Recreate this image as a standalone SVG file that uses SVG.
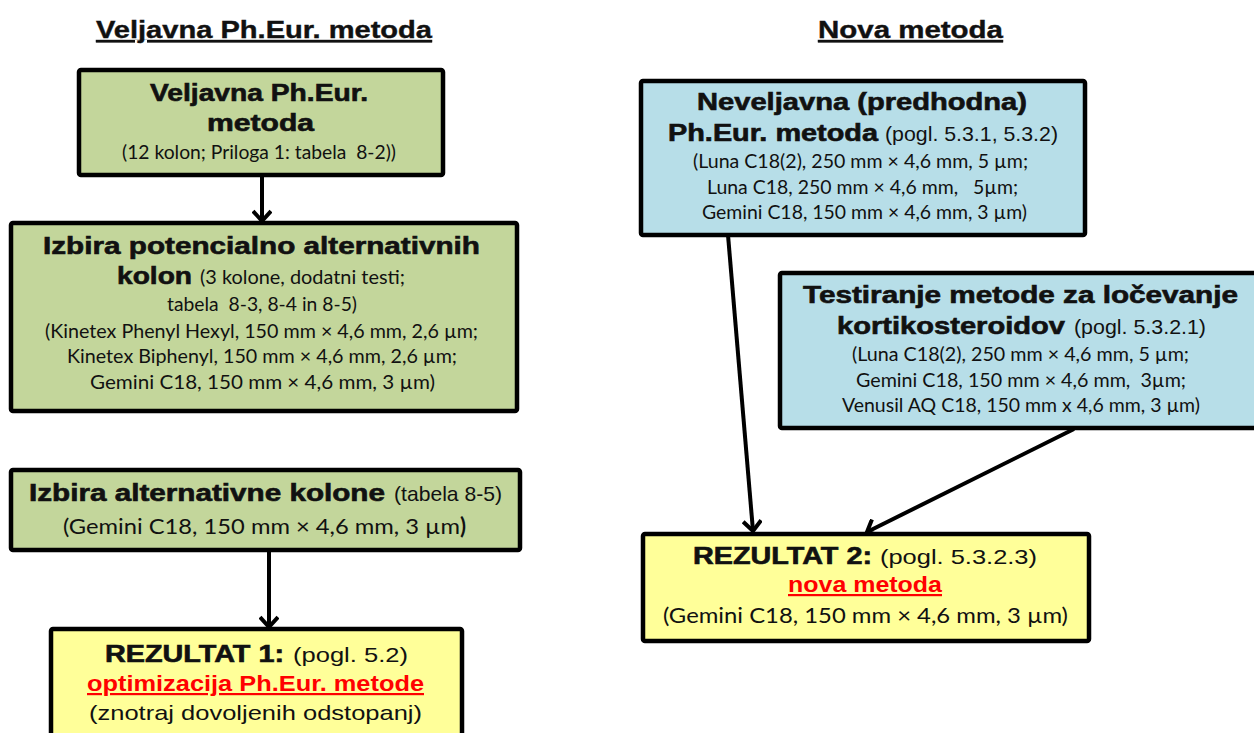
<svg xmlns="http://www.w3.org/2000/svg" width="1254" height="733" viewBox="0 0 1254 733">
<defs>
<style>
.box{stroke:#000;stroke-width:4.5}
.g{fill:#C3D69B}.b{fill:#B7DEE8}.y{fill:#FFFF99}
text{white-space:pre;fill:#111}
.h{font-family:"Liberation Sans",Arial,sans-serif;font-weight:bold;font-size:23px;stroke:#111;stroke-width:0.6}
.hd{font-family:"Liberation Sans",Arial,sans-serif;font-weight:bold;font-size:24px;text-decoration:underline;stroke:#111;stroke-width:0.4}
.c{font-family:Lato,"Open Sans",sans-serif;font-size:18.5px}
.c2{font-family:Lato,"Open Sans",sans-serif;font-size:22px}
.n{font-family:"Liberation Sans",Arial,sans-serif;font-size:21px}
.r{font-family:"Liberation Sans",Arial,sans-serif;font-weight:bold;font-size:22px;fill:#FF0000;text-decoration:underline}
.con{stroke:#000;stroke-width:4;fill:none}
</style>
<marker id="ah" markerUnits="userSpaceOnUse" viewBox="-12 -10 14 20" refX="0" refY="0" markerWidth="14" markerHeight="20" orient="auto">
<path d="M-10,-9 L0,0 L-10,9" fill="none" stroke="#000" stroke-width="4"/>
</marker>
</defs>
<rect width="1254" height="733" fill="#fff"/>
<g id="headings">
<text class="hd" x="96" y="38" textLength="336" lengthAdjust="spacingAndGlyphs">Veljavna Ph.Eur. metoda</text>
<text class="hd" x="818" y="38" textLength="185" lengthAdjust="spacingAndGlyphs">Nova metoda</text>
</g>
<g id="connectors">
<line class="con" x1="262" y1="175" x2="262" y2="221" marker-end="url(#ah)"/>
<line class="con" x1="269" y1="551" x2="269" y2="627" marker-end="url(#ah)"/>
<line class="con" x1="728" y1="235" x2="753" y2="531" marker-end="url(#ah)"/>
<line class="con" x1="1074" y1="429" x2="867" y2="532" marker-end="url(#ah)"/>
</g>
<g id="n1">
<rect class="box g" x="79" y="70" width="364" height="105" rx="2"/>
<text class="h" x="150" y="101" textLength="218" lengthAdjust="spacingAndGlyphs">Veljavna Ph.Eur.</text>
<text class="h" x="207" y="131" textLength="107" lengthAdjust="spacingAndGlyphs">metoda</text>
<text class="c" x="122" y="159" textLength="274" lengthAdjust="spacingAndGlyphs">(12 kolon; Priloga 1: tabela  8-2))</text>
</g>
<g id="n2">
<rect class="box g" x="11" y="223" width="506" height="188" rx="2"/>
<text class="h" x="43" y="254" textLength="437" lengthAdjust="spacingAndGlyphs">Izbira potencialno alternativnih</text>
<text class="h" x="117" y="284" textLength="75" lengthAdjust="spacingAndGlyphs">kolon</text>
<text class="c" x="200" y="284" textLength="205" lengthAdjust="spacingAndGlyphs">(3 kolone, dodatni testi;</text>
<text class="c" x="167" y="311" textLength="190" lengthAdjust="spacingAndGlyphs">tabela  8-3, 8-4 in 8-5)</text>
<text class="c" x="45" y="338" textLength="433" lengthAdjust="spacingAndGlyphs">(Kinetex Phenyl Hexyl, 150 mm × 4,6 mm, 2,6 µm;</text>
<text class="c" x="67" y="363" textLength="390" lengthAdjust="spacingAndGlyphs">Kinetex Biphenyl, 150 mm × 4,6 mm, 2,6 µm;</text>
<text class="c" x="90" y="389" textLength="345" lengthAdjust="spacingAndGlyphs">Gemini C18, 150 mm × 4,6 mm, 3 µm)</text>
</g>
<g id="n3">
<rect class="box g" x="11" y="470" width="509" height="80" rx="2"/>
<text class="h" x="29" y="501" textLength="356" lengthAdjust="spacingAndGlyphs">Izbira alternativne kolone</text>
<text class="n" x="394" y="501" textLength="108" lengthAdjust="spacingAndGlyphs">(tabela 8-5)</text>
<text class="c2" x="63" y="534" textLength="397" lengthAdjust="spacingAndGlyphs">(Gemini C18, 150 mm × 4,6 mm, 3 µm</text>
<text class="c2" x="460" y="534" font-weight="bold">)</text>
</g>
<g id="n4">
<rect class="box y" x="51" y="629" width="411" height="120" rx="2"/>
<text class="h" x="105" y="662" textLength="179" lengthAdjust="spacingAndGlyphs">REZULTAT 1:</text>
<text class="n" x="293" y="662" font-size="22" textLength="115" lengthAdjust="spacingAndGlyphs">(pogl. 5.2)</text>
<text class="r" x="87" y="691" textLength="337" lengthAdjust="spacingAndGlyphs">optimizacija Ph.Eur. metode</text>
<text class="n" x="89" y="720" font-size="22" textLength="333" lengthAdjust="spacingAndGlyphs">(znotraj dovoljenih odstopanj)</text>
</g>
<g id="n5">
<rect class="box b" x="641" y="81" width="444" height="154" rx="2"/>
<text class="h" x="697" y="110" textLength="330" lengthAdjust="spacingAndGlyphs">Neveljavna (predhodna)</text>
<text class="h" x="668" y="141" textLength="210" lengthAdjust="spacingAndGlyphs">Ph.Eur. metoda</text>
<text class="n" x="885" y="141" textLength="173" lengthAdjust="spacingAndGlyphs">(pogl. 5.3.1, 5.3.2)</text>
<text class="c" x="693" y="168" textLength="335" lengthAdjust="spacingAndGlyphs">(Luna C18(2), 250 mm × 4,6 mm, 5 µm;</text>
<text class="c" x="707" y="194" textLength="311" lengthAdjust="spacingAndGlyphs">Luna C18, 250 mm × 4,6 mm,   5µm;</text>
<text class="c" x="702" y="219" textLength="325" lengthAdjust="spacingAndGlyphs">Gemini C18, 150 mm × 4,6 mm, 3 µm)</text>
</g>
<g id="n6">
<rect class="box b" x="780" y="273" width="490" height="155" rx="2"/>
<text class="h" x="803" y="303" textLength="435" lengthAdjust="spacingAndGlyphs">Testiranje metode za ločevanje</text>
<text class="h" x="837" y="334" textLength="228" lengthAdjust="spacingAndGlyphs">kortikosteroidov</text>
<text class="n" x="1074" y="334" textLength="132" lengthAdjust="spacingAndGlyphs">(pogl. 5.3.2.1)</text>
<text class="c" x="852" y="361" textLength="337" lengthAdjust="spacingAndGlyphs">(Luna C18(2), 250 mm × 4,6 mm, 5 µm;</text>
<text class="c" x="856" y="387" textLength="330" lengthAdjust="spacingAndGlyphs">Gemini C18, 150 mm × 4,6 mm,  3µm;</text>
<text class="c" x="842" y="412" textLength="358" lengthAdjust="spacingAndGlyphs">Venusil AQ C18, 150 mm x 4,6 mm, 3 µm)</text>
</g>
<g id="n7">
<rect class="box y" x="643" y="534" width="446" height="107" rx="2"/>
<text class="h" x="693" y="564" textLength="179" lengthAdjust="spacingAndGlyphs">REZULTAT 2:</text>
<text class="n" x="880" y="564" font-size="22" textLength="157" lengthAdjust="spacingAndGlyphs">(pogl. 5.3.2.3)</text>
<text class="r" x="788" y="592" textLength="154" lengthAdjust="spacingAndGlyphs">nova metoda</text>
<text class="c2" x="663" y="623" textLength="405" lengthAdjust="spacingAndGlyphs">(Gemini C18, 150 mm × 4,6 mm, 3 µm)</text>
</g>
</svg>
